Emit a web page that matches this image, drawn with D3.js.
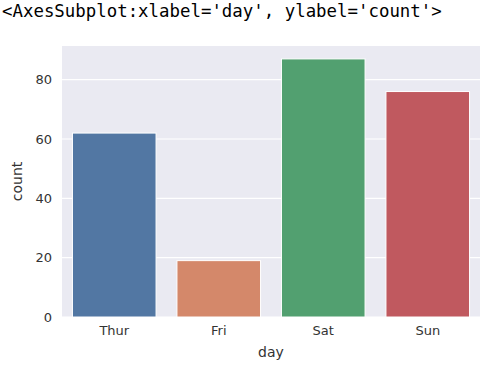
<!DOCTYPE html>
<head>
  <meta charset="utf-8">
  <script src="https://d3js.org/d3.v7.min.js"></script>
  <style>
    body { margin:0; background:#fff; }
    svg { display:block; }
    text { font-family: "DejaVu Sans", sans-serif; fill:#333; }
  </style>
</head>
<body>
  <script>
    var days = ["Thur", "Fri", "Sat", "Sun"],
        counts = [62, 19, 87, 76],
        colors = ["#5277a3", "#d4886a", "#52a070", "#c0595f"],
        yTicks = [0, 20, 40, 60, 80];

    var W = 503, H = 366,
        m = {left: 62, right: 23, top: 46, bottom: 49},
        iw = W - m.left - m.right,
        ih = H - m.top - m.bottom;

    var svg = d3.select("body").append("svg")
        .attr("width", W).attr("height", H);

    svg.append("text")
        .attr("x", 2).attr("y", 17)
        .style("font-family", "'DejaVu Sans Mono', monospace")
        .style("font-size", "17.4px")
        .style("fill", "#000")
        .text("<AxesSubplot:xlabel='day', ylabel='count'>");

    var g = svg.append("g").attr("transform", "translate(" + m.left + "," + m.top + ")");

    var x = d3.scaleBand().domain(days).range([0, iw]).paddingInner(0.2).paddingOuter(0.1);
    var y = d3.scaleLinear().domain([0, d3.max(counts) * 1.05]).range([ih, 0]);

    g.append("rect").attr("width", iw).attr("height", ih).attr("fill", "#eaeaf2");

    g.selectAll(".grid").data(yTicks).enter().append("line")
        .attr("x1", 0).attr("x2", iw)
        .attr("y1", function(d){ return y(d); })
        .attr("y2", function(d){ return y(d); })
        .attr("stroke", "#fff").attr("stroke-width", 1.2);

    g.selectAll(".bar").data(counts).enter().append("rect")
        .attr("x", function(d, i){ return x(days[i]); })
        .attr("y", function(d){ return y(d); })
        .attr("width", x.bandwidth())
        .attr("height", function(d){ return y(0) - y(d); })
        .attr("fill", function(d, i){ return colors[i]; })
        .attr("stroke", "#fff").attr("stroke-width", 1);

    var yAxis = g.append("g").call(d3.axisLeft(y).tickValues(yTicks).tickSize(0).tickPadding(10));
    yAxis.select(".domain").remove();
    yAxis.selectAll("text").style("font-size", "13px").style("fill", "#333");

    var xAxis = g.append("g").attr("transform", "translate(0," + ih + ")")
        .call(d3.axisBottom(x).tickSize(0).tickPadding(9));
    xAxis.select(".domain").remove();
    xAxis.selectAll("text").style("font-size", "13px").style("fill", "#333");

    svg.append("text")
        .attr("x", m.left + iw / 2).attr("y", 357)
        .attr("text-anchor", "middle")
        .style("font-size", "14px")
        .text("day");

    svg.append("text")
        .attr("transform", "translate(22," + (m.top + ih / 2) + ") rotate(-90)")
        .attr("text-anchor", "middle")
        .style("font-size", "14px")
        .text("count");
  </script>
</body>
</html>
